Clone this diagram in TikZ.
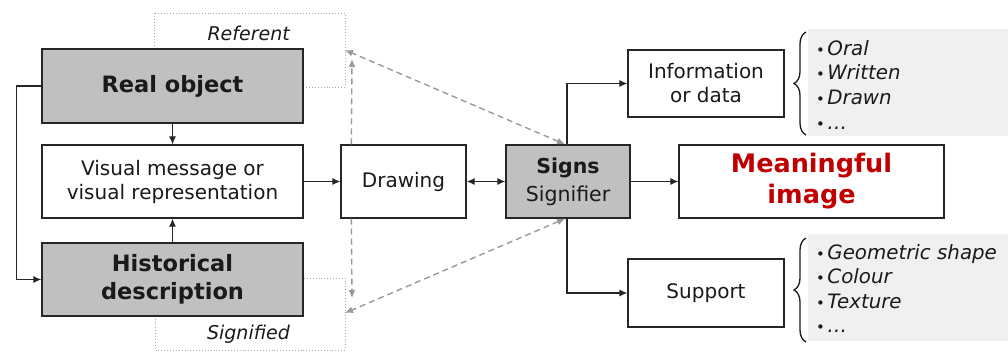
\documentclass[tikz,border=0pt]{standalone}
\usepackage{fontspec}
\setmainfont{DejaVu Sans}
\usetikzlibrary{arrows.meta,decorations.pathreplacing,calc}
\definecolor{boxgray}{HTML}{C0C0C0}
\definecolor{edge}{HTML}{262626}
\definecolor{dashgray}{HTML}{999999}
\definecolor{dotgray}{HTML}{A8A8A8}
\definecolor{listbg}{HTML}{F0F0F0}
\definecolor{mred}{HTML}{C00000}
\definecolor{ink}{HTML}{1A1A1A}
\begin{document}
\begin{tikzpicture}[x=1pt,y=-1pt,
  box/.style={draw=edge,line width=1.3pt,fill=white,inner sep=0pt,align=center,text=ink},
  graybox/.style={box,fill=boxgray},
  reg/.style={font=\fontsize{20}{24}\selectfont},
  bigbold/.style={font=\fontsize{22.5}{28}\selectfont\bfseries},
  arr/.style={draw=edge,line width=1.2pt,-{Latex[length=8pt,width=7pt]}},
  darr/.style={draw=edge,line width=1.2pt,{Latex[length=8pt,width=7pt]}-{Latex[length=8pt,width=7pt]}},
  dasharr/.style={draw=dashgray,line width=1.4pt,dash pattern=on 6pt off 4pt,-{Latex[length=8pt,width=7pt]}},
  dashdbl/.style={draw=dashgray,line width=1.4pt,dash pattern=on 6pt off 4pt,{Latex[length=8pt,width=7pt]}-{Latex[length=8pt,width=7pt]}},
  dotbox/.style={draw=dotgray,line width=0.9pt,dotted},
  listbox/.style={fill=listbg,draw=none},
  item/.style={anchor=base west,inner sep=0pt,text=ink,font=\fontsize{19.8}{24}\selectfont\itshape},
  bracestyle/.style={draw=ink,line width=1.3pt,decorate,decoration={brace,amplitude=12pt}}
]
\useasboundingbox (0,0) rectangle (1008,351);

% dotted label frames
\draw[dotbox] (154,13) rectangle (345,87);
\node[anchor=base east,inner sep=0pt,text=ink,font=\fontsize{19}{24}\selectfont\itshape] (reflab) at (290,40) {Referent};
\draw[dotbox] (155,278) rectangle (345,350);
\node[anchor=base east,inner sep=0pt,text=ink,font=\fontsize{19}{24}\selectfont\itshape] (siglab) at (290,339) {Signified};

% main boxes
\node[graybox,bigbold,minimum width=261pt,minimum height=74pt] (real) at (172.5,86) {Real object};
\node[box,reg,minimum width=261pt,minimum height=73pt] (visual) at (172.5,181.5) {Visual message or\\visual representation};
\node[graybox,bigbold,minimum width=261pt,minimum height=73pt] (hist) at (172.5,279.5) {Historical\\description};
\node[box,reg,minimum width=125pt,minimum height=73pt] (drawing) at (403.5,181.5) {Drawing};
\node[graybox,font=\fontsize{20.5}{28}\selectfont,minimum width=124pt,minimum height=73pt] (signs) at (568,181.5) {\textbf{Signs}\\Signifier};
\node[box,reg,minimum width=156pt,minimum height=67pt] (info) at (706,83.5) {Information\\or data};
\node[box,reg,minimum width=156pt,minimum height=68pt] (support) at (706,293) {Support};
\node[box,font=\fontsize{25.5}{31}\selectfont\bfseries,text=mred,minimum width=265pt,minimum height=73pt] (meaning) at (811.5,181.5) {Meaningful\\image};

% solid connectors
\draw[arr] (real.south) -- (visual.north);
\draw[arr] (hist.north) -- (visual.south);
\draw[arr] (real.west) -- ++(-25,0) |- (hist.west);
\draw[arr] (visual.east) -- (drawing.west);
\draw[darr] (drawing.east) -- (signs.east -| signs.west);
\draw[arr] (signs.east) -- (meaning.west);
\draw[arr] ($(signs.north)+(-1,0)$) |- (info.west);
\draw[arr] ($(signs.south)+(-1,0)$) |- (support.west);

% dashed connectors
\coordinate (reftip) at (345,50);
\coordinate (refvtip) at (352,59);
\coordinate (sigtip) at (345,313);
\coordinate (sigvtip) at (352,298);
\draw[dasharr] ($(drawing.north west)+(11,0)$) -- (refvtip);
\draw[dasharr] ($(drawing.south west)+(11,0)$) -- (sigvtip);
\draw[dashdbl] ($(signs.north)+(-3,0)$) -- (reftip);
\draw[dashdbl] ($(signs.south)+(-3,0)$) -- (sigtip);

% lists
\node[listbox,minimum width=200pt,minimum height=107pt,inner sep=0pt] (infolist) at (908,82.5) {};
\node[listbox,minimum width=200pt,minimum height=107pt,inner sep=0pt] (supplist) at (908,287.5) {};
\draw[bracestyle] (806,135) -- (806,32);
\draw[bracestyle] (806,342) -- (806,238);

\foreach \n/\t/\yy in {i1/Oral/55, i2/Written/79.5, i3/Drawn/104, i4/\ldots/129}
  \node[item] (\n) at (816,\yy) {\upshape\scalebox{0.75}{•}\kern2.5pt\itshape \t};
\foreach \n/\t/\yy in {s1/Geometric shape/259, s2/Colour/283.5, s3/Texture/308, s4/\ldots/332.5}
  \node[item] (\n) at (816,\yy) {\upshape\scalebox{0.75}{•}\kern2.5pt\itshape \t};
\end{tikzpicture}
\end{document}
